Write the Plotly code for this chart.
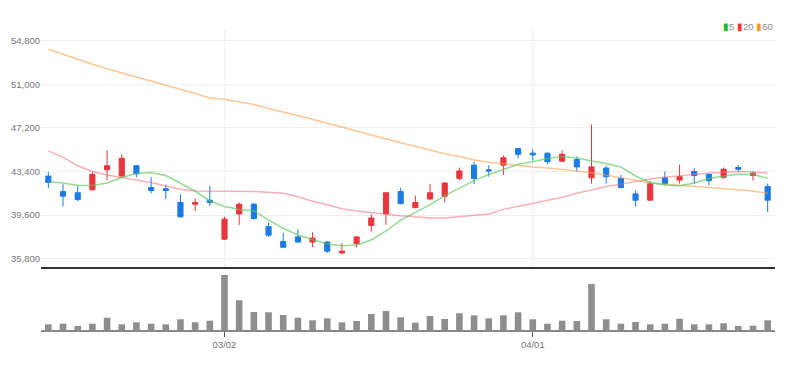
import plotly.graph_objects as go

dates = [
    "2022-02-11", "2022-02-14", "2022-02-15", "2022-02-16", "2022-02-17", "2022-02-18",
    "2022-02-21", "2022-02-22", "2022-02-23", "2022-02-24", "2022-02-25", "2022-02-28",
    "2022-03-02", "2022-03-03", "2022-03-04", "2022-03-07", "2022-03-08", "2022-03-10",
    "2022-03-11", "2022-03-14", "2022-03-15", "2022-03-16", "2022-03-17", "2022-03-18",
    "2022-03-21", "2022-03-22", "2022-03-23", "2022-03-24", "2022-03-25", "2022-03-28",
    "2022-03-29", "2022-03-30", "2022-03-31", "2022-04-01", "2022-04-04", "2022-04-05",
    "2022-04-06", "2022-04-07", "2022-04-08", "2022-04-11", "2022-04-12", "2022-04-13",
    "2022-04-14", "2022-04-15", "2022-04-18", "2022-04-19", "2022-04-20", "2022-04-21",
    "2022-04-22", "2022-04-25",
]

opens = [43000, 41650, 41550, 41800, 43550, 43000, 43900, 42000, 41900, 40700,
         40550, 40900, 37500, 39700, 40550, 38600, 37300, 37700, 37250, 37250,
         36300, 37100, 38700, 39700, 41650, 40250, 41000, 41250, 42800, 43950,
         43550, 43950, 45400, 45000, 45000, 44300, 44450, 42850, 43700, 42800,
         41450, 40900, 42850, 42650, 43400, 43150, 42900, 43750, 43050, 42100]
highs = [43350, 42300, 42150, 43350, 45250, 44900, 43950, 42900, 42250, 41400,
         41050, 42150, 39450, 40700, 40650, 38950, 38050, 38350, 38100, 37350,
         37150, 37750, 39650, 41600, 42000, 41300, 42300, 42450, 43750, 44250,
         43950, 44800, 45450, 45350, 45050, 45250, 44700, 47500, 43900, 43100,
         41750, 42600, 43400, 44000, 43700, 43200, 43750, 43950, 43400, 42350]
lows = [41950, 40350, 40800, 41750, 42650, 42950, 42900, 41500, 41000, 39400,
        39950, 40400, 37450, 38750, 39200, 37700, 36800, 37200, 36800, 36300,
        36200, 36800, 38150, 38750, 40550, 40200, 40950, 40700, 42600, 42300,
        42950, 43100, 44550, 44350, 44050, 44250, 43400, 42350, 42350, 41950,
        40350, 40900, 42200, 42350, 42350, 42200, 42750, 43350, 42600, 39850]
closes = [42450, 41250, 40950, 43150, 43900, 44550, 43200, 41750, 41750, 39450,
          40700, 40700, 39250, 40550, 39300, 37850, 36800, 37250, 37600, 36450,
          36450, 37700, 39350, 41550, 40600, 40700, 41550, 42400, 43450, 42800,
          43450, 44600, 44900, 44850, 44250, 44900, 43800, 43800, 42950, 42000,
          40900, 42350, 42350, 42950, 43050, 42600, 43600, 43600, 43250, 40900]

ma5 = [42510, 42400, 42200, 42180, 42400, 42880, 43225, 43310, 43050, 42400,
       41700, 40830, 40350, 40090, 39980, 39170, 38450, 37865, 37475, 37080,
       36930, 36990, 37430, 38215, 39155, 39850, 40520, 41300, 41960, 42610,
       43140, 43575, 44030, 44245, 44530, 44710, 44580, 44320, 44100, 43790,
       43010, 42440, 42225, 42160, 42400, 42790, 43010, 43155, 43140, 42810]
ma20 = [45200, 44650, 43900, 43400, 43100, 42850, 42650, 42450, 42150, 41850,
        41700, 41700, 41700, 41700, 41650, 41600, 41500, 41200, 40800, 40500,
        40150, 39950, 39800, 39700, 39550, 39450, 39350, 39350, 39450, 39550,
        39700, 40100, 40350, 40600, 40850, 41150, 41500, 41800, 42100, 42300,
        42550, 42750, 42900, 43050, 43150, 43250, 43300, 43400, 43350, 43250]
ma60 = [54050, 53600, 53150, 52750, 52350, 52000, 51600, 51250, 50900, 50550,
        50200, 49800, 49700, 49450, 49250, 48900, 48600, 48300, 47950, 47600,
        47250, 46900, 46550, 46200, 45900, 45600, 45250, 44950, 44700, 44400,
        44200, 44050, 43900, 43800, 43700, 43600, 43450, 43300, 43100, 42900,
        42650, 42400, 42300, 42200, 42100, 42000, 41900, 41800, 41700, 41500]

volumes = [114000, 126000, 80000, 126000, 246000, 114000, 154000, 126000, 114000, 214000,
           154000, 186000, 1100000, 594000, 360000, 354000, 300000, 246000, 194000, 234000,
           154000, 180000, 320000, 380000, 254000, 146000, 280000, 220000, 334000, 294000,
           234000, 294000, 354000, 214000, 126000, 186000, 180000, 920000, 214000, 126000,
           160000, 114000, 126000, 226000, 114000, 114000, 134000, 80000, 86000, 194000]

price_ticks = [35800, 39600, 43400, 47200, 51000, 54800]
x_tick_vals = ["2022-03-02", "2022-04-01"]
x_tick_text = ["03/02", "04/01"]

RED = "#e8363d"
BLUE = "#1b7be3"
FONT = "Liberation Sans Narrow, Liberation Sans, Arial, sans-serif"

fig = go.Figure()

fig.add_trace(go.Scatter(x=dates, y=ma60, mode="lines", line=dict(color="rgba(247,160,80,0.6)", width=1.5),
                         xaxis="x", yaxis="y", hoverinfo="skip"))
fig.add_trace(go.Scatter(x=dates, y=ma20, mode="lines", line=dict(color="rgba(240,110,125,0.55)", width=1.5),
                         xaxis="x", yaxis="y", hoverinfo="skip"))
fig.add_trace(go.Scatter(x=dates, y=ma5, mode="lines", line=dict(color="rgba(90,200,90,0.65)", width=1.5),
                         xaxis="x", yaxis="y", hoverinfo="skip"))

fig.add_trace(go.Candlestick(
    x=dates, open=opens, high=highs, low=lows, close=closes,
    increasing=dict(line=dict(color=RED, width=1), fillcolor=RED),
    decreasing=dict(line=dict(color=BLUE, width=1), fillcolor=BLUE),
    whiskerwidth=0, xaxis="x", yaxis="y",
))

fig.add_trace(go.Bar(x=dates, y=volumes, marker=dict(color="#8e8e8e", line=dict(width=0)),
                     width=0.45, xaxis="x2", yaxis="y2"))

# the page body has an 8px margin, so the figure is sized/offset to compensate
fig.update_layout(
    width=783, height=363,
    margin=dict(l=33, r=16, t=12, b=41, autoexpand=False),
    paper_bgcolor="white", plot_bgcolor="white",
    showlegend=False,
    boxgap=0.5,
    font=dict(family=FONT, size=10, color="#777"),
    xaxis=dict(type="category", categoryorder="array", categoryarray=dates,
               range=[-0.5, 49.5], domain=[0, 1], anchor="y", automargin=False,
               tickvals=x_tick_vals, ticktext=x_tick_text, showticklabels=False,
               showgrid=True, gridcolor="#eeeeee", gridwidth=1,
               showline=True, linecolor="#333", linewidth=2,
               ticks="", rangeslider=dict(visible=False), zeroline=False),
    yaxis=dict(domain=[0.2032, 0.9677], range=[35076, 55733], automargin=False,
               tickvals=price_ticks, tickformat=",", showgrid=True,
               gridcolor="#eeeeee", gridwidth=1, zeroline=False, ticks="",
               tickfont=dict(size=9.5, color="#777")),
    xaxis2=dict(type="category", categoryorder="array", categoryarray=dates,
                range=[-0.5, 49.5], domain=[0, 1], anchor="y2", automargin=False,
                tickvals=x_tick_vals, ticktext=x_tick_text,
                showgrid=False, showline=True, linecolor="#888", linewidth=1.5,
                ticks="outside", ticklen=5, tickcolor="#555", tickwidth=1,
                tickfont=dict(size=9.5, color="#777"), zeroline=False),
    yaxis2=dict(domain=[0, 0.1935], range=[0, 1200000], showticklabels=False,
                showgrid=False, zeroline=False, ticks="", automargin=False),
    annotations=[dict(
        xref="paper", yref="paper", x=1, y=0.98, xanchor="right", yanchor="middle",
        showarrow=False, font=dict(family=FONT, size=9.5, color="#888"),
        text=('<span style="color:#22b822">▮</span>5 '
              '<span style="color:#ee3333">▮</span>20 '
              '<span style="color:#f39a2b">▮</span>60'),
    )],
)

fig.write_html("out.html")
